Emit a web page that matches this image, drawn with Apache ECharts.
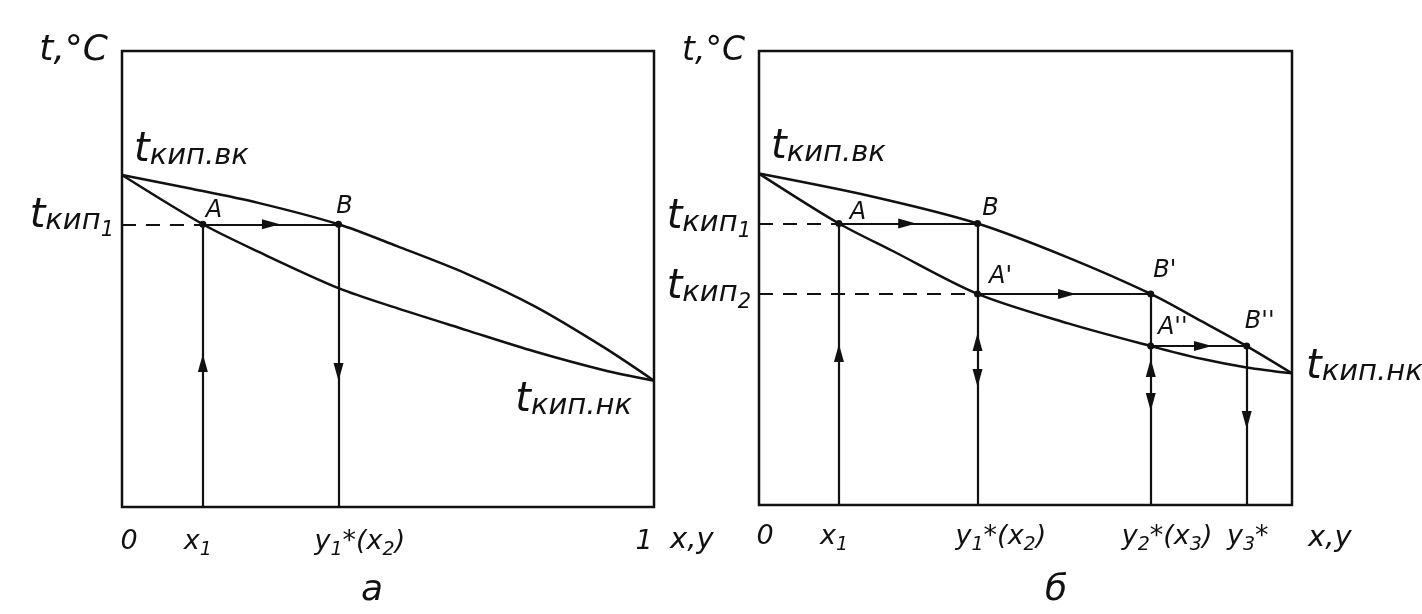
<!DOCTYPE html>
<html><head><meta charset="utf-8">
<script src="https://cdn.jsdelivr.net/npm/echarts@6/dist/echarts.min.js"></script>
<style>html,body{margin:0;padding:0;background:#fff}#c{width:1422px;height:614px}</style>
</head><body><div id="c"></div>
<script>
// ---------- panel а ----------
const aLiquidX = [0, 0.152, 0.256, 0.407, 0.517, 0.647, 0.776, 0.906, 1];
const aLiquidT = [72.8, 62, 56, 48, 43.6, 38.8, 34.1, 30, 27.7];
const aVaporX  = [0, 0.126, 0.256, 0.407, 0.517, 0.647, 0.776, 0.906, 1];
const aVaporT  = [72.8, 69.9, 66.7, 62, 57.2, 51.2, 44, 35, 27.7];
const aPointNames = ['A', 'B'];
const aPointX = [0.152, 0.407];
const aPointT = [62, 62];
const aArrowX = [0.28, 0.152, 0.407];
const aArrowT = [62, 31.6, 29.6];
const aArrowDir = ['right', 'up', 'down'];
const aTickX = [0, 0.152, 0.407, 1];
const aTickText = ['0', 'x₁', 'y₁*(x₂)', '1'];
const aLevelT = [62];
const aLevelText = ['кип₁'];

// ---------- panel б ----------
const bLiquidX = [0, 0.15, 0.25, 0.41, 0.58, 0.735, 0.83, 0.915, 1];
const bLiquidT = [73, 62, 56, 46.5, 40, 35, 32.2, 30.3, 29];
const bVaporX  = [0, 0.21, 0.41, 0.58, 0.735, 0.83, 0.915, 1];
const bVaporT  = [73, 68, 62, 54.5, 46.5, 40.5, 35, 29];
const bPointNames = ['A', 'B', "A'", "B'", "A''", "B''"];
const bPointX = [0.15, 0.41, 0.41, 0.735, 0.735, 0.915];
const bPointT = [62, 62, 46.5, 46.5, 35, 35];
const bArrowX = [0.278, 0.578, 0.833, 0.15, 0.41, 0.735, 0.41, 0.735, 0.915];
const bArrowT = [62, 46.5, 35, 33.5, 35.9, 30.2, 28, 22.7, 18.7];
const bArrowDir = ['right', 'right', 'right', 'up', 'up', 'up', 'down', 'down', 'down'];
const bTickX = [0, 0.15, 0.41, 0.735, 0.915];
const bTickText = ['0', 'x₁', 'y₁*(x₂)', 'y₂*(x₃)', 'y₃*'];
const bLevelT = [62, 46.5];
const bLevelText = ['кип₁', 'кип₂'];

const aT_TOP = 72.8, bT_TOP = 73;   // t кип.вк
const aT_BOTTOM = 27.7;             // t кип.нк (а)
const bT_BOTTOM = 29;               // t кип.нк (б)

// ---------- styling / layout ----------
const INK = '#111';
const FONT = 'DejaVu Sans';
const ROT = { right: -90, up: 0, down: 180 };

const aPointOffsets = [[11, -14], [6, -18]];
const bPointOffsets = [[19, -11], [13, -15], [23, -17], [14, -23], [22, -18], [13, -24]];
const aTickOffsets = [[7, 35, 'center'], [-5, 35, 'center'], [-24, 35, 'left'], [-10, 35, 'center']];
const bTickOffsets = [[6, 32, 'center'], [-5, 32, 'center'], [-22, 32, 'left'], [-29, 32, 'left'], [1, 32, 'center']];

const pairs = (xs, ts) => xs.map((x, i) => [x, ts[i]]);
const txt = (size) => ({ fontFamily: FONT, fontStyle: 'italic', fontWeight: 'normal', fontSize: size, color: INK, lineHeight: size });

// turn unicode subscript digits into rich-text fragments
const SUB = '₀₁₂₃₄₅₆₇₈₉';
function richify(s, main) {
  let out = '', buf = '';
  for (const ch of s) {
    const k = SUB.indexOf(ch);
    if (k >= 0) { if (buf) { out += '{' + main + '|' + buf + '}'; buf = ''; } out += '{sb|' + k + '}'; }
    else buf += ch;
  }
  if (buf) out += '{' + main + '|' + buf + '}';
  return out;
}

function curve(xs, ts, g) {
  return { type: 'line', xAxisIndex: g, yAxisIndex: g, data: pairs(xs, ts), smooth: 0.3,
    symbol: 'none', lineStyle: { color: INK, width: 2.5 }, silent: true, z: 3 };
}
function segs(list, g, dashed) {
  return { type: 'lines', coordinateSystem: 'cartesian2d', xAxisIndex: g, yAxisIndex: g,
    data: list.map(c => ({ coords: c })), silent: true, z: 2,
    lineStyle: { color: INK, width: 2.2, opacity: 1, type: dashed ? [14, 10] : 'solid' } };
}
function arrows(xs, ts, dirs, g) {
  return { type: 'scatter', xAxisIndex: g, yAxisIndex: g, symbol: 'triangle', symbolSize: [10, 18],
    silent: true, z: 5, itemStyle: { color: INK, opacity: 1 },
    data: xs.map((x, i) => ({ value: [x, ts[i]], symbolRotate: ROT[dirs[i]] })) };
}
function points(names, xs, ts, offs, g) {
  return { type: 'scatter', xAxisIndex: g, yAxisIndex: g, symbol: 'circle', symbolSize: 7,
    silent: true, z: 6, itemStyle: { color: INK, opacity: 1 },
    data: xs.map((x, i) => ({ value: [x, ts[i]],
      label: { show: true, position: 'inside', formatter: names[i], offset: offs[i],
        ...txt(24) } })) };
}
const tickRich = { m: { ...txt(27), verticalAlign: 'bottom' }, sb: { ...txt(19), verticalAlign: 'bottom', padding: [0, 0, -4, 0] } };
function ticks(xs, texts, offs, g) {
  return { type: 'scatter', xAxisIndex: g, yAxisIndex: g, symbolSize: 0, silent: true,
    itemStyle: { opacity: 1 },
    data: xs.map((x, i) => ({ value: [x, 0],
      label: { show: true, position: 'inside', formatter: richify(texts[i], 'm'),
        offset: [offs[i][0], offs[i][1]], align: offs[i][2], verticalAlign: 'middle', rich: tickRich } })) };
}
const tRich = { t: { ...txt(40), verticalAlign: 'bottom' }, s: { ...txt(29), verticalAlign: 'bottom' },
  sb: { ...txt(21), verticalAlign: 'bottom', padding: [0, 0, -5, 0] } };
function tempLabel(x, t, text, align, offset) {
  return { value: [x, t], label: { show: true, position: 'inside', align, verticalAlign: 'bottom',
    offset, formatter: '{t|t}' + richify(text, 's'), rich: tRich } };
}
function tempLabels(items, g) {
  return { type: 'scatter', xAxisIndex: g, yAxisIndex: g, symbolSize: 0, silent: true,
    itemStyle: { opacity: 1 }, data: items };
}

const axisCommon = {
  axisLine: { show: false }, axisTick: { show: false }, axisLabel: { show: false }, splitLine: { show: false }
};
const xAx = g => ({ type: 'value', gridIndex: g, min: 0, max: 1, ...axisCommon,
  name: 'x,y', nameLocation: 'end', nameGap: 16,
  nameTextStyle: { ...txt(29), align: 'left', verticalAlign: 'top', padding: [19, 0, 0, 0] } });
const yAx = (g, fs) => ({ type: 'value', gridIndex: g, min: 0, max: 100, ...axisCommon,
  name: 't,°C', nameLocation: 'end', nameGap: 0,
  nameTextStyle: { ...txt(fs), align: 'right', verticalAlign: 'middle', padding: [8, 14, 0, 0] } });

const option = {
  animation: false,
  backgroundColor: '#fff',
  grid: [
    { left: 122, top: 51, width: 532, height: 456, show: true, borderColor: INK, borderWidth: 2.5, backgroundColor: 'transparent' },
    { left: 759, top: 51, width: 533, height: 454, show: true, borderColor: INK, borderWidth: 2.5, backgroundColor: 'transparent' }
  ],
  title: [
    { text: 'а', left: 356, top: 568, textStyle: { ...txt(36) } },
    { text: 'б', left: 1040, top: 568, textStyle: { ...txt(36) } }
  ],
  xAxis: [xAx(0), xAx(1)],
  yAxis: [yAx(0, 36), yAx(1, 33)],
  series: [
    // panel а
    curve(aLiquidX, aLiquidT, 0),
    curve(aVaporX, aVaporT, 0),
    segs([[[0, aPointT[0]], [aPointX[0], aPointT[0]]]], 0, true),
    segs([
      [[aPointX[0], aPointT[0]], [aPointX[1], aPointT[1]]],
      [[aPointX[0], 0], [aPointX[0], aPointT[0]]],
      [[aPointX[1], aPointT[1]], [aPointX[1], 0]]
    ], 0, false),
    arrows(aArrowX, aArrowT, aArrowDir, 0),
    points(aPointNames, aPointX, aPointT, aPointOffsets, 0),
    ticks(aTickX, aTickText, aTickOffsets, 0),
    tempLabels([
      tempLabel(0, aT_TOP, 'кип.вк', 'left', [12, -4]),
      tempLabel(0, aLevelT[0], aLevelText[0], 'right', [-8, 12]),
      tempLabel(1, aT_BOTTOM, 'кип.нк', 'right', [-22, 40])
    ], 0),
    // panel б
    curve(bLiquidX, bLiquidT, 1),
    curve(bVaporX, bVaporT, 1),
    segs([
      [[0, bPointT[0]], [bPointX[0], bPointT[0]]],
      [[0, bPointT[2]], [bPointX[2], bPointT[2]]]
    ], 1, true),
    segs([
      [[bPointX[0], bPointT[0]], [bPointX[1], bPointT[1]]],
      [[bPointX[2], bPointT[2]], [bPointX[3], bPointT[3]]],
      [[bPointX[4], bPointT[4]], [bPointX[5], bPointT[5]]],
      [[bPointX[0], 0], [bPointX[0], bPointT[0]]],
      [[bPointX[1], bPointT[1]], [bPointX[1], 0]],
      [[bPointX[3], bPointT[3]], [bPointX[3], 0]],
      [[bPointX[5], bPointT[5]], [bPointX[5], 0]]
    ], 1, false),
    arrows(bArrowX, bArrowT, bArrowDir, 1),
    points(bPointNames, bPointX, bPointT, bPointOffsets, 1),
    ticks(bTickX, bTickText, bTickOffsets, 1),
    tempLabels([
      tempLabel(0, bT_TOP, 'кип.вк', 'left', [12, -6]),
      tempLabel(0, bLevelT[0], bLevelText[0], 'right', [-8, 14]),
      tempLabel(0, bLevelT[1], bLevelText[1], 'right', [-8, 14]),
      tempLabel(1, bT_BOTTOM, 'кип.нк', 'left', [14, 14])
    ], 1)
  ]
};

const chart = echarts.init(document.getElementById('c'), null, { renderer: 'canvas' });
chart.setOption(option);
</script>
</body></html>
